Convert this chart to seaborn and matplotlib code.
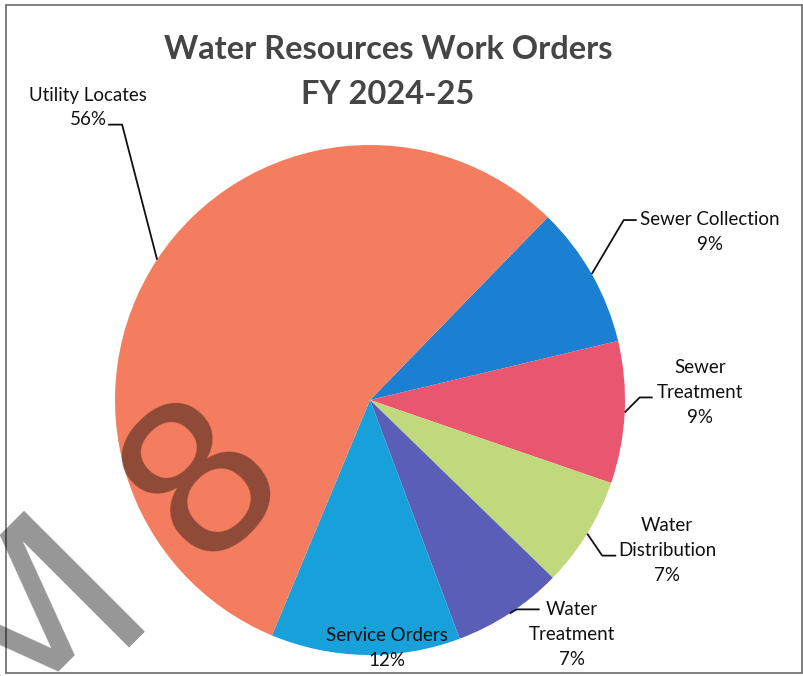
import numpy as np
import matplotlib
matplotlib.use("Agg")
import matplotlib.pyplot as plt
import seaborn as sns

# ---- data (clockwise from the upper-right) ----
categories = ["Sewer Collection", "Sewer Treatment", "Water Distribution",
              "Water Treatment", "Service Orders", "Utility Locates"]
percents = [9, 9, 7, 7, 12, 56]
label_texts = ["Sewer Collection\n9%", "Sewer\nTreatment\n9%", "Water\nDistribution\n7%",
               "Water\nTreatment\n7%", "Service Orders\n12%", "Utility Locates\n56%"]
colors = ["#1B7FD2", "#E9566F", "#C0D97C", "#5A5EB7", "#17A0D9", "#F47D5F"]
title = "Water Resources Work Orders\nFY 2024-25"

sns.set_theme(style="white")
plt.rcParams["font.family"] = ["Lato", "DejaVu Sans"]

W, H = 804, 676
fig = plt.figure(figsize=(W / 100, H / 100), dpi=100)
ax = fig.add_axes([0, 0, 1, 1])

R_PX = 255.0
CX, CY = 370.0, 400.0
start = 45.8

wedges, _ = ax.pie(percents, colors=sns.color_palette(colors), startangle=start,
                   counterclock=False, radius=1.0, center=(0, 0),
                   wedgeprops=dict(linewidth=0))

ax.set_xlim(-CX / R_PX, (W - CX) / R_PX)
ax.set_ylim((CY - H) / R_PX, CY / R_PX)
ax.set_aspect("equal")
ax.axis("off")

# label layout: text offset (px from the wedge's edge point, screen y down)
# and leader polyline offsets (px from the edge point)
layout = {
    "Sewer Collection": dict(text=(118, -42), leader=[(0, 0), (32, -54), (45, -54)]),
    "Sewer Treatment": dict(text=(75, -20), leader=[(0, 0), (15, -15), (28, -15)]),
    "Water Distribution": dict(text=(80, 17), leader=[(0, 0), (15, 22), (29, 22)]),
    "Water Treatment": dict(text=(62, 21), leader=[(0, 0), (7, -4), (30, -4)]),
    "Service Orders": dict(text=(21, -7), leader=None),
    "Utility Locates": dict(text=(-69, -152), leader=[(0, 0), (-35, -135), (-49, -135)]),
}

for w, cat, lab in zip(wedges, categories, label_texts):
    mid = np.deg2rad((w.theta1 + w.theta2) / 2)
    ex, ey = np.cos(mid), np.sin(mid)
    L = layout[cat]
    tx = ex + L["text"][0] / R_PX
    ty = ey - L["text"][1] / R_PX
    ax.text(tx, ty, lab, ha="center", va="center", fontsize=13.5,
            color="#111111", linespacing=1.55)
    if L["leader"]:
        xs = [ex + p[0] / R_PX for p in L["leader"]]
        ys = [ey - p[1] / R_PX for p in L["leader"]]
        ax.plot(xs, ys, color="#111111", lw=1.3, solid_capstyle="butt")

fig.text(388 / W, 1 - 72 / H, title, ha="center", va="center", fontsize=23.5,
         fontweight="bold", color="#454545", linespacing=1.65)

# scanned watermark glyphs (diagonal stamp)
fig.text(246 / W, 1 - 520 / H, "8", ha="center", va="baseline", rotation=45,
         rotation_mode="anchor", fontsize=150, color="black", alpha=0.41,
         family="DejaVu Sans")
fig.text(154 / W, 1 - 600 / H, "M", ha="right", va="baseline", rotation=45,
         rotation_mode="anchor", fontsize=168, color="black", alpha=0.41,
         family="DejaVu Sans")

# frame of the scan
for (x0, y0, x1, y1) in [(6, 5, 802, 5), (6, 5, 6, 673), (802, 5, 802, 673), (6, 673, 802, 673)]:
    fig.add_artist(plt.Line2D([x0 / W, x1 / W], [1 - y0 / H, 1 - y1 / H],
                              color="#6a6a6a", lw=1.2, transform=fig.transFigure))

fig.savefig("out.png", dpi=100, facecolor="white")
